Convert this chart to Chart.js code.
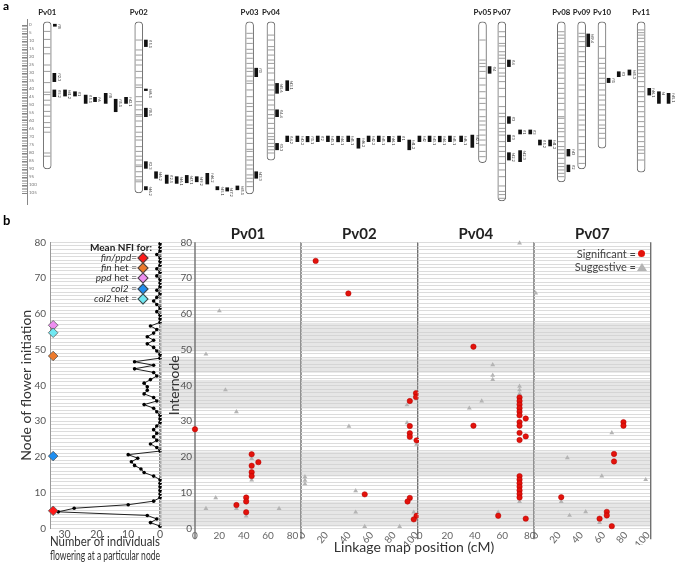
<!DOCTYPE html>
<html><head><meta charset="utf-8">
<script src="https://cdn.jsdelivr.net/npm/chart.js@4.4.1/dist/chart.umd.min.js"></script>
<style>
html,body{margin:0;padding:0;background:#fff;}
#wrap{position:relative;width:676px;height:563px;overflow:hidden;font-family:Lato,'Open Sans',sans-serif;color:#333}
canvas{position:absolute}
.t{position:absolute;white-space:nowrap}
.dia{position:absolute;width:6px;height:6px;transform:rotate(45deg);border:1px solid #444}
</style></head><body>
<div id="wrap">
<canvas id="cA" width="676" height="205" style="left:0;top:0"></canvas>
<canvas id="cL" width="163" height="333" style="left:0;top:230px"></canvas>
<canvas id="p1" width="142" height="320" style="left:160px;top:225px"></canvas>
<canvas id="p2" width="119" height="320" style="left:300px;top:225px"></canvas>
<canvas id="p3" width="120" height="320" style="left:416px;top:225px"></canvas>
<canvas id="p4" width="120" height="320" style="left:533px;top:225px"></canvas>
<div class="t" style="left:3px;top:-2px;font-weight:bold;font-size:12px;color:#000">a</div>
<div class="t" style="left:3px;top:212px;font-weight:bold;font-size:13px;color:#000">b</div>
<div class="t" style="left:314px;top:538px;width:200px;text-align:center;font-size:14px;color:#333">Linkage map position (cM)</div>
<div id="nfiLegend"></div>
<div class="t" style="left:560px;top:247px;width:76px;text-align:right;font-size:11px;color:#444">Significant =</div>
<div style="position:absolute;left:638px;top:250px;width:7px;height:7px;border-radius:50%;background:#e3120b"></div>
<div class="t" style="left:560px;top:260px;width:76px;text-align:right;font-size:11px;color:#444">Suggestive =</div>
<div style="position:absolute;left:637px;top:263px;width:0;height:0;border-left:5px solid transparent;border-right:5px solid transparent;border-bottom:8px solid #b4b4b4"></div>
</div>
<script>
const FONT = "Lato, 'Open Sans', sans-serif";
Chart.defaults.font.family = FONT;
Chart.defaults.animation = false;

// ================= Panel a data =================
const chromNames = ['Pv01','Pv02','Pv03','Pv04','Pv05','Pv07','Pv08','Pv09','Pv10','Pv11'];
const chromTrack = [1.2, 10.2, 21.1, 23.2, 44.0, 45.9, 51.75, 53.75, 55.75, 59.6];
const chromEnd = [90, 105, 105.5, 84.5, 86, 110, 98, 90, 77, 92];

const bandsPv01 = [4, 9, 14, 18, 25, 29, 36, 42, 43.5, 47, 50, 54, 57, 61, 64, 67, 80, 82];
const bandsPv02 = [9.4, 15.6, 18.8, 21.9, 25, 29, 33, 37.5, 39, 44.8, 47.9, 50, 53, 56, 57, 60, 63.5, 67, 69.8, 71.9, 76, 79, 82, 84.4, 87.5, 88.5, 91.7, 94.8, 96.9, 98];
const bandsPv03 = [5.2, 8.3, 11.5, 15.2, 17.7, 20.8, 24, 27, 29, 32, 35, 36.5, 40.6, 44.8, 49, 51, 54, 57, 59.4, 62.5, 64.6, 67.7, 70.8, 74, 77.7, 79, 82.3, 84.4, 87.5, 90, 93.7, 95.8, 98, 101];
const bandsPv04 = [6.3, 9.4, 13.5, 15.6, 18.8, 21.9, 24, 27, 30, 34.4, 37.5, 40.6, 43.8, 46.9, 50, 53, 56, 58.3, 61.5, 64.6, 67.7, 69.8, 71.5, 74, 76, 78, 80];
const bandsPv05 = [9.4, 21.9, 24, 26, 29, 33.3, 37.5, 41.7, 45.8, 49, 53, 57.3, 60, 62.5, 65.6, 68.8, 71.9, 75, 79, 82.3];
const bandsPv07 = [4.2, 7.3, 11.5, 13.1, 16.7, 18.8, 20.8, 24, 27, 30, 32, 35.4, 39.6, 44.8, 51, 55.2, 57.3, 61.5, 64.6, 66.7, 68.8, 72.9, 76, 79, 82.3, 86.5, 90.6, 94.8, 100.6, 104, 106, 108.3];
const bandsPv08 = [4.2, 6.3, 8.3, 11.5, 14.6, 17.7, 19.8, 21.9, 25, 27, 30, 33.3, 36.5, 39.6, 42.7, 45.8, 49, 53, 57.3, 58.3, 61.5, 64.6, 66.7, 69.8, 72.9, 76, 78, 80.2, 83.3, 86.5, 88.5, 90.6, 92.7, 94.8];
const bandsPv09 = [5.2, 7.3, 10.4, 13.5, 16.7, 19.8, 22.9, 26, 30.2, 33.3, 37.5, 40.6, 44.8, 49, 53, 56.3, 59.4, 62.5, 65.6, 69.8, 74, 78, 82.3, 86.5];
const bandsPv10 = [13.5, 20.8, 24, 27, 30.2, 33.3, 36.5, 40.6, 43.8, 46.9, 50, 53, 56.3, 59.4, 62.5, 64.6, 67.7, 70.8];
const bandsPv11 = [3.1, 4.8, 6.3, 8.3, 10.4, 13.5, 15.6, 17.7, 19.8, 21.9, 24, 26, 28.1, 30.2, 32.3, 35.4, 38.5, 41.7, 44.8, 47.9, 51, 54.2, 57.3, 60.4, 63.5, 66.7, 69.8, 72.9, 76, 78.1, 80.2, 84.4];

const qtlTrack = [1.95, 1.9, 1.9, 2.95, 3.93, 4.98, 5.9, 6.95, 7.93, 8.95,
  10.9, 10.9, 10.9, 10.9, 11.9, 12.95, 13.93, 14.92, 15.9, 16.94, 17.93, 18.9, 19.9, 10.9,
  21.75, 21.75,
  23.8, 24.8, 23.8, 23.8, 24.8,
  25.8, 26.8, 27.8, 28.8, 29.8, 30.8, 31.8, 32.8, 33.8, 34.8, 35.8, 36.8, 37.8, 38.8, 39.8, 40.8, 41.9, 43.0,
  44.7,
  46.6, 46.6, 46.6, 46.6, 47.7, 47.7, 48.7, 49.65, 50.65,
  52.45, 52.45, 54.4, 56.4, 57.4, 58.45, 60.4, 61.35, 62.3];
const qtlFrom = [-0.5, 30.2, 40.6, 40.6, 41.7, 43.8, 45.2, 42.7, 46.4, 45.2,
  9.4, 40, 52, 85.4, 91.7, 93.8, 94.8, 94, 94.8, 92.7, 101, 101.7, 100.6, 101,
  27, 91.7,
  36.5, 34.8, 53, 74, 69.4,
  69.4, 69.6, 69.4, 69.4, 69.5, 69.4, 70.8, 69.4, 69.4, 69.6, 69.4, 71.9, 69.4, 69.4, 69.5, 69.4, 69.4, 68.8,
  26,
  21.9, 57.3, 68.8, 79.8, 78.5, 65.6, 65.6, 71.9, 71.9,
  77.7, 87.5, 5.6, 33.3, 29.2, 28.1, 39.6, 41.7, 42.7];
const qtlTo = [0.8, 35.4, 44.8, 44.4, 44.4, 49, 47.9, 49, 54.2, 49,
  13.5, 41, 57.3, 89.6, 95.8, 99, 99, 98.6, 98, 99.4, 103, 103.8, 103, 103,
  32.3, 95.8,
  42.7, 41, 57.3, 78, 72.9,
  72.9, 73, 72.9, 72.9, 73, 72.9, 77, 72.9, 72.9, 73, 72.9, 78, 72.9, 72.9, 73, 72.9, 72.9, 76.5,
  30.2,
  26, 61.5, 72.9, 84.4, 85.4, 68.1, 68.1, 75, 75.6,
  81.9, 91.7, 13.5, 36, 32.3, 31.3, 43.8, 49, 49];
const qtlName = ['fl8', 'fl2.3', 'fl5.2', 'fd1.2', 'fl1', 'fl5.1', 'fi6', 'fl8', 'fl5.1', 'fd2.1',
  'fl5.1', 'fd6.1', 'fl8.1', 'fl2.3', 'fd6.2', 'fl2.5', 'fd6.1', 'fd7.1', 'fd9.2', 'fd6.2', 'fd5.1', 'fd7.2', 'fd5.1', 'fd6.2',
  'fl3', 'fd3.3',
  'fd5.6', 'fd3.1', 'fl4.4', 'fl3.3', 'fl4.2',
  'fd0.2', 'fl1.1', 'fl2', 'fd3.1', 'fd4.1', 'fd5.1', 'fd6.2', 'fd2.2', 'fd5.1', 'fd6.1', 'fl1', 'fd1.2', 'fd2', 'fd3.1', 'fd4.1', 'fd5.1', 'fd6.1', 'fd2.1',
  'fl4',
  'fl4', 'fl3', 'fl3', 'fd2.2', 'fd2.3', 'fl1', 'fl3', 'fl5.2', 'fd1.2',
  'fd3', 'fl2', 'fd9.4', 'fl1', 'fl3', 'fd5.3', 'fd6.1', 'fd', 'fd5.1'];

// ================= Panel b data =================
const nodes = [1,2,3,4,5,6,7,8,9,10,11,12,13,14,15,16,17,18,19,20,21,22,23,24,25,26,27,28,29,30,31,32,33,34,35,36,37,38,39,40,41,42,43,44,45,46,47,48,49,50,51,52,53,54,55,56,57,58,59,60,61,62,63,64,65,66,67,68,69,70,71,72,73,74,75,76,77,78,79,80];
const nIndividuals = [0,3,1,4,32,27,10,2,0,0, 0,0,0,0,2,5,6,8,9,7, 10,0,1,3,1,2,1,2,1,0, 0,0,1,2,5,1,2,5,4,4, 5,3,1,2,8,2,8,0,0,1, 2,4,2,4,2,1,3,0,0,0, 1,0,1,2,1,0,1,0,0,0, 1,0,1,0,0,0,1,0,0,0];
const nfiGene = ['fin/ppd', 'fin', 'ppd', 'col2', 'col2'];
const nfiSuffix = ['=', ' het =', ' het =', ' =', ' het ='];
const nfiMean = [4.9, 48.2, 56.8, 20.2, 54.7];
const nfiColors = ['#ff1a1a', '#ec7a2c', '#ee8ef0', '#1f8ef0', '#6fe8f2'];
const internodeBands = [[0.5, 7.5], [14.5, 21.5], [33.5, 41.5], [43.5, 47.5], [49.5, 57.5]];

const pv01Sig = [[0,27.7],[46.5,20.7],[52,18.5],[46.5,17.5],[46.5,15.7],[46.5,14.6],[42,8.6],[42,7.5],[34,6.5],[42,4.5]];
const pv01Sug = [[20,60.8],[9,48.7],[25,38.7],[34,32.6],[46.5,19.5],[46.5,13.5],[17,8.5],[9,5.5],[34,5.5],[69,5.5],[42,3.4]];
const pv02Sig = [[10.5,74.8],[39.5,65.7],[99.5,37.8],[99.5,36.7],[94,35.6],[94,28.6],[94,26.6],[94,25.6],[100,24.6],[54,9.5],[94,8.5],[92,7.5],[100,3.5],[97.5,2.5]];
const pv02Sug = [[91.5,34.5],[40,28.5],[91.5,29.5],[100,23.5],[1,14.4],[1,13.4],[1,12.4],[46,10.5],[46,4.5],[97.5,4.5],[54,0.5],[85,0.5]];
const pv04Sig = [[39,50.8],[72.5,36.6],[72.5,35.6],[72.5,34.6],[72.5,33.6],[72.5,32.6],[72.5,31.6],[77,30.7],[72.5,29.7],[72.5,28.7],[39,28.7],[72.5,26.7],[77,25.7],[72.5,24.7],[72.5,14.6],[72.5,13.6],[72.5,12.6],[72.5,11.6],[72.5,10.6],[72.5,9.6],[72.5,8.6],[57,3.5],[77,2.7]];
const pv04Sug = [[72.5,79.8],[53,45.7],[53,42.8],[53,41.6],[72.5,39.7],[72.5,38.7],[72.5,37.7],[45,35.6],[36,33.6],[72.5,7.5],[57,4.5]];
const pv07Sig = [[78,29.7],[78,28.7],[69.5,20.8],[69.5,18.7],[22,8.7],[63,4.6],[63,3.6],[56.5,2.7],[67.5,0.6]];
const pv07Sug = [[-1,65.8],[67.5,26.7],[27.5,19.7],[58.5,14.6],[98,13.6],[22,7.5],[44,4.6],[29.5,3.6],[56.5,1.6]];

// ================= helpers =================
function zeroPad(s){ s.paddingLeft = 0; s.paddingRight = 0; s.paddingTop = 0; s.paddingBottom = 0; }

// ================= Panel a chart =================
const bandLists = [bandsPv01, bandsPv02, bandsPv03, bandsPv04, bandsPv05, bandsPv07, bandsPv08, bandsPv09, bandsPv10, bandsPv11];
const bandPoints = [];
bandLists.forEach((lst, i) => lst.forEach(v => bandPoints.push({x: chromTrack[i], y: v})));

const qtlLabelPlugin = {
  id: 'qtlLabels',
  afterDatasetsDraw(chart) {
    const {ctx, scales: {x, y}} = chart;
    ctx.save();
    ctx.fillStyle = '#333';
    ctx.font = '4px ' + FONT;
    ctx.textBaseline = 'middle';
    ctx.textAlign = 'left';
    qtlName.forEach((name, i) => {
      const px = x.getPixelForValue(qtlTrack[i]) + 4.5;
      const py = y.getPixelForValue(qtlFrom[i]);
      ctx.save(); ctx.translate(px, py); ctx.rotate(Math.PI / 2); ctx.fillText(name, 0, 0); ctx.restore();
    });
    ctx.restore();
  }
};

new Chart(document.getElementById('cA'), {
  type: 'bar',
  data: { datasets: [
    { type: 'bar', label: 'QTL', order: 1, grouped: false, barThickness: 3, backgroundColor: '#111', borderWidth: 0,
      data: qtlTrack.map((t, i) => ({x: t, y: [qtlFrom[i], qtlTo[i]]})) },
    { type: 'scatter', label: 'bands', order: 2, data: bandPoints, pointStyle: 'line', pointRadius: 3.2,
      pointBorderColor: '#9d9d9d', borderColor: '#9d9d9d', pointBorderWidth: 1 },
    { type: 'bar', label: 'chromosomes', order: 3, grouped: false, barThickness: 8, backgroundColor: '#fff',
      borderColor: '#6a6a6a', borderWidth: 1, borderRadius: 4, borderSkipped: false,
      data: chromTrack.map((t, i) => ({x: t, y: [-2, chromEnd[i]]})) }
  ]},
  options: {
    responsive: false, animation: false,
    layout: { padding: 0, autoPadding: false },
    plugins: { legend: {display: false}, tooltip: {enabled: false} },
    scales: {
      x: { type: 'linear', position: 'top', min: -0.79, max: 63.03, offset: false,
        grid: {display: false, drawTicks: false}, border: {display: false},
        afterBuildTicks: s => { s.ticks = chromTrack.map(v => ({value: v})); },
        ticks: { autoSkip: false, maxRotation: 0, padding: 2, color: '#222',
          font: {size: 7.8, weight: 'bold'}, callback: (v, i) => chromNames[i] },
        afterFit: s => { s.height = 19; zeroPad(s); } },
      y: { type: 'linear', reverse: true, min: -3.75, max: 112.5, position: 'left',
        afterBuildTicks: s => { s.ticks = s.ticks.filter(t => Number.isInteger(t.value) && t.value >= 0 && t.value <= 105); },
        ticks: { stepSize: 1, autoSkip: false, mirror: true, padding: 2, color: '#777', font: {size: 4.5},
          callback: v => (v % 5 === 0 ? v : '') },
        grid: { drawOnChartArea: false, drawTicks: true, tickLength: 5, lineWidth: 0.8,
          color: c => (c.tick && c.tick.value % 5 === 0 ? '#666' : '#aaa') },
        border: { display: true, color: '#888', width: 1 },
        afterFit: s => { s.width = 27; zeroPad(s); } }
    }
  },
  plugins: [qtlLabelPlugin]
});

// ================= Panel b left chart =================
const NODE_SHIFT = -0.4;
new Chart(document.getElementById('cL'), {
  type: 'scatter',
  data: { datasets: [
    { label: 'Mean NFI', order: 1, data: nfiMean.map(v => ({x: 33.6, y: v})), pointStyle: 'rectRot', pointRadius: 4.8,
      pointBackgroundColor: nfiColors, pointBorderColor: '#555', pointBorderWidth: 0.8, clip: false },
    { label: 'Individuals', order: 2, type: 'line', data: nodes.map((n, i) => ({x: nIndividuals[i], y: n + NODE_SHIFT})),
      borderColor: '#222', borderWidth: 1, pointRadius: 1.8, pointBackgroundColor: '#000', pointBorderWidth: 0, tension: 0, clip: false }
  ]},
  options: {
    responsive: false, animation: false,
    layout: { padding: {top: 12.3, right: 3, left: 0, bottom: 0}, autoPadding: false },
    plugins: { legend: {display: false}, tooltip: {enabled: false} },
    scales: {
      x: { type: 'linear', reverse: true, min: 0, max: 34.6,
        ticks: { stepSize: 10, includeBounds: false, padding: 0, color: '#555', font: {size: 10.5} },
        grid: { drawTicks: false, color: c => (c.tick && c.tick.value === 0 ? '#8a8a8a' : 'rgba(0,0,0,0)'), lineWidth: 2.5 },
        border: { display: false },
        title: { display: true, text: ['Number of individuals', 'flowering at a particular node'], color: '#333',
          font: {size: 12.5, lineHeight: 1.12}, padding: 0 },
        afterFit: s => { s.height = 34.7; zeroPad(s); } },
      y: { type: 'linear', min: 0, max: 80,
        ticks: { stepSize: 1, autoSkip: false, padding: 4, color: '#555', font: {size: 10},
          callback: v => (v % 10 === 0 ? v : '') },
        grid: { drawTicks: false, color: '#dcdcdc', lineWidth: 1 },
        border: { display: true, color: '#999', width: 1 },
        title: { display: true, text: 'Node of flower initiation', color: '#333', font: {size: 14}, padding: {top: 18.5, bottom: 0} },
        afterFit: s => { s.width = 50; zeroPad(s); } }
    }
  }
});

// ================= Panel b right charts =================
const bgPlugin = {
  id: 'bg',
  beforeDraw(chart, args, opts) {
    const {ctx, chartArea: ca, scales: {y}} = chart;
    const x0 = opts.extendLeft ? 0 : ca.left;
    ctx.save();
    ctx.strokeStyle = '#dcdcdc'; ctx.lineWidth = 1;
    y.ticks.forEach(t => {
      const py = Math.round(y.getPixelForValue(t.value)) + 0.5;
      ctx.beginPath(); ctx.moveTo(x0, py); ctx.lineTo(ca.right, py); ctx.stroke();
    });
    ctx.fillStyle = 'rgba(205,205,205,0.5)';
    internodeBands.forEach(b => {
      const yTop = y.getPixelForValue(b[1]), yBot = y.getPixelForValue(b[0]);
      ctx.fillRect(x0, yTop, ca.right - x0, yBot - yTop);
    });
    ctx.restore();
  },
  beforeDatasetsDraw(chart, args, opts) {
    const {ctx, chartArea: ca} = chart;
    ctx.save(); ctx.strokeStyle = '#707070'; ctx.lineWidth = 1.4;
    const xs = opts.leftBorder ? [ca.left, ca.right] : [ca.right];
    xs.forEach(x => { ctx.beginPath(); ctx.moveTo(x, ca.top); ctx.lineTo(x, ca.bottom + 11); ctx.stroke(); });
    ctx.restore();
  }
};

function panelChart(id, title, sig, sug, xmin, xmax, first, pad) {
  return new Chart(document.getElementById(id), {
    type: 'scatter',
    data: { datasets: [
      { label: 'Significant', data: sig.map(p => ({x: p[0], y: p[1]})), pointStyle: 'circle', pointRadius: 2.7,
        pointBackgroundColor: '#e3120b', pointBorderColor: '#b00000', pointBorderWidth: 0.5, clip: false },
      { label: 'Suggestive', data: sug.map(p => ({x: p[0], y: p[1]})), pointStyle: 'triangle', pointRadius: 2.8,
        pointBackgroundColor: '#b4b4b4', pointBorderColor: '#b4b4b4', pointBorderWidth: 0, clip: false }
    ]},
    options: {
      responsive: false, animation: false,
      layout: { padding: {top: 0.3, left: pad[0], right: pad[1], bottom: 0}, autoPadding: false },
      plugins: {
        legend: {display: false}, tooltip: {enabled: false},
        title: { display: true, text: title, fullSize: false, color: '#222', padding: 0,
          font: {size: 15, weight: 'bold', lineHeight: '17px'} },
        bg: { extendLeft: first, leftBorder: first }
      },
      scales: {
        x: { type: 'linear', min: xmin, max: xmax,
          ticks: { stepSize: 20, includeBounds: false, padding: 1, color: '#666', font: {size: 10},
            callback: v => (v >= 0 && v <= 100 && v % 20 === 0 ? v : '') },
          grid: { display: false, drawTicks: false }, border: { display: false },
          afterFit: s => { s.height = 16.7; zeroPad(s); } },
        y: { type: 'linear', min: 0, max: 80, display: true,
          ticks: { display: first, stepSize: 1, autoSkip: false, padding: 3, color: '#555', font: {size: 10},
            callback: v => (v % 10 === 0 ? v : '') },
          grid: { display: false, drawTicks: false }, border: { display: false },
          title: { display: first, text: 'Internode', color: '#333', font: {size: 14}, padding: {top: 6.5, bottom: 0} },
          afterFit: s => { s.width = first ? 35 : 0; zeroPad(s); } }
      }
    },
    plugins: [bgPlugin]
  });
}
panelChart('p1', 'Pv01', pv01Sig, pv01Sug, 0, 87, true, [0, 1]);
panelChart('p2', 'Pv02', pv02Sig, pv02Sug, -2.5, 101, false, [1, 1.3]);
panelChart('p3', 'Pv04', pv04Sig, pv04Sug, -1.5, 83, false, [1.7, 2]);
panelChart('p4', 'Pv07', pv07Sig, pv07Sug, -2.5, 102.5, false, [1, 2.3]);

// ================= NFI legend (HTML) =================
const leg = document.getElementById('nfiLegend');
let html = '<div class="t" style="left:60px;top:241px;width:92px;text-align:right;font-weight:bold;font-size:10px;color:#222">Mean NFI for:</div>';
nfiGene.forEach((g, i) => {
  const yc = 257.7 + i * 10.3;
  html += '<div class="t" style="left:50px;top:' + (yc - 7) + 'px;width:87px;text-align:right;font-size:10px;color:#333"><i>' + g + '</i>' + nfiSuffix[i] + '</div>';
  html += '<div class="dia" style="left:' + (142.7 - 4) + 'px;top:' + (yc - 4) + 'px;background:' + nfiColors[i] + '"></div>';
});
leg.innerHTML = html;
</script>
</body></html>
